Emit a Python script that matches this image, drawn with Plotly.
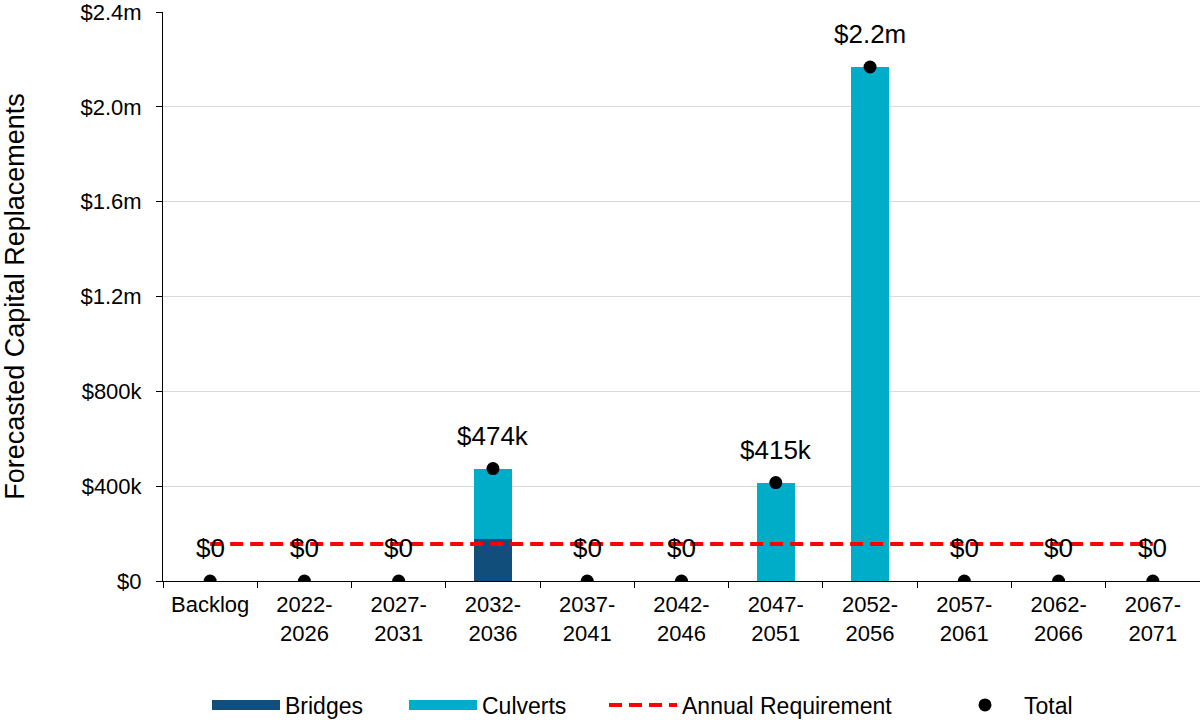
import plotly.graph_objects as go

categories = ["Backlog", "2022-2026", "2027-2031", "2032-2036", "2037-2041", "2042-2046",
              "2047-2051", "2052-2056", "2057-2061", "2062-2066", "2067-2071"]
bridges = [0, 0, 0, 177000, 0, 0, 0, 0, 0, 0, 0]
culverts = [0, 0, 0, 297000, 0, 0, 415000, 2168000, 0, 0, 0]
annual_requirement = [156000] * 11
ytick_vals = [0, 400000, 800000, 1200000, 1600000, 2000000, 2400000]
ytick_text = ["$0", "$400k", "$800k", "$1.2m", "$1.6m", "$2.0m", "$2.4m"]

totals = [b + c for b, c in zip(bridges, culverts)]


def fmt(v):
    if v == 0:
        return "$0"
    if v >= 1e6:
        return f"${v/1e6:.1f}m"
    return f"${v/1e3:.0f}k"


xlabels = [c.replace("-", "-<br>") for c in categories]

FONT = "Liberation Sans, Arial, sans-serif"
C_BRIDGES = "#124E7C"
C_CULVERTS = "#00ADC9"

fig = go.Figure()
fig.add_trace(go.Bar(x=xlabels, y=bridges, name="Bridges", marker_color=C_BRIDGES,
                     marker_line_width=0, width=0.4, legendgroup="b", showlegend=False))
fig.add_trace(go.Bar(x=xlabels, y=culverts, name="Culverts", marker_color=C_CULVERTS,
                     marker_line_width=0, width=0.4, legendgroup="c", showlegend=False))
# legend swatches for the bar series (wide blocks like the original)
fig.add_trace(go.Scatter(x=[None], y=[None], mode="lines", name="Bridges", legendgroup="b",
                         line=dict(color=C_BRIDGES, width=16), legend="legend"))
fig.add_trace(go.Scatter(x=[None], y=[None], mode="lines", name="Culverts", legendgroup="c",
                         line=dict(color=C_CULVERTS, width=16), legend="legend2"))
fig.add_trace(go.Scatter(x=xlabels, y=annual_requirement, name="Annual Requirement", mode="lines",
                         line=dict(color="#FF0000", width=4, dash="13px,7px"), legend="legend3"))
fig.add_trace(go.Scatter(x=xlabels, y=totals, name="Total", mode="markers",
                         marker=dict(color="black", size=13), legend="legend4"))

for xl, v in zip(xlabels, totals):
    fig.add_annotation(x=xl, y=v, text=fmt(v), showarrow=False, yanchor="middle",
                       yshift=33, font=dict(size=26, color="black", family=FONT))

legend_x = {"legend": 212, "legend2": 409, "legend3": 609, "legend4": 951}
legend_common = dict(orientation="h", xref="container", yref="container", y=15 / 720,
                     yanchor="middle", xanchor="left", font=dict(size=23), itemwidth=68,
                     bgcolor="rgba(0,0,0,0)")
fig.update_layout(
    width=1200, height=720,
    barmode="stack",
    margin=dict(l=163, r=0, t=12, b=139, autoexpand=False),
    plot_bgcolor="white", paper_bgcolor="white",
    font=dict(family=FONT, size=22, color="black"),
    **{name: dict(x=(px - 5) / 1200, **legend_common) for name, px in legend_x.items()},
)
fig.update_xaxes(range=[-0.5, 10.5], showline=True, linecolor="black", linewidth=1,
                 ticks="outside", tickson="boundaries", ticklen=6, tickcolor="black",
                 showgrid=False, tickfont=dict(size=22), ticklabelstandoff=4)
fig.update_yaxes(range=[0, 2400000], tickvals=ytick_vals, ticktext=ytick_text,
                 showline=True, linecolor="black", linewidth=1, ticks="outside",
                 ticklen=6, tickcolor="black", showgrid=True, gridcolor="#D9D9D9",
                 zeroline=False, tickfont=dict(size=22), ticklabelstandoff=10,
                 ticklabeloverflow="allow",
                 title=dict(text="Forecasted Capital Replacements", font=dict(size=27),
                            standoff=50))

fig.write_html("out.html")
